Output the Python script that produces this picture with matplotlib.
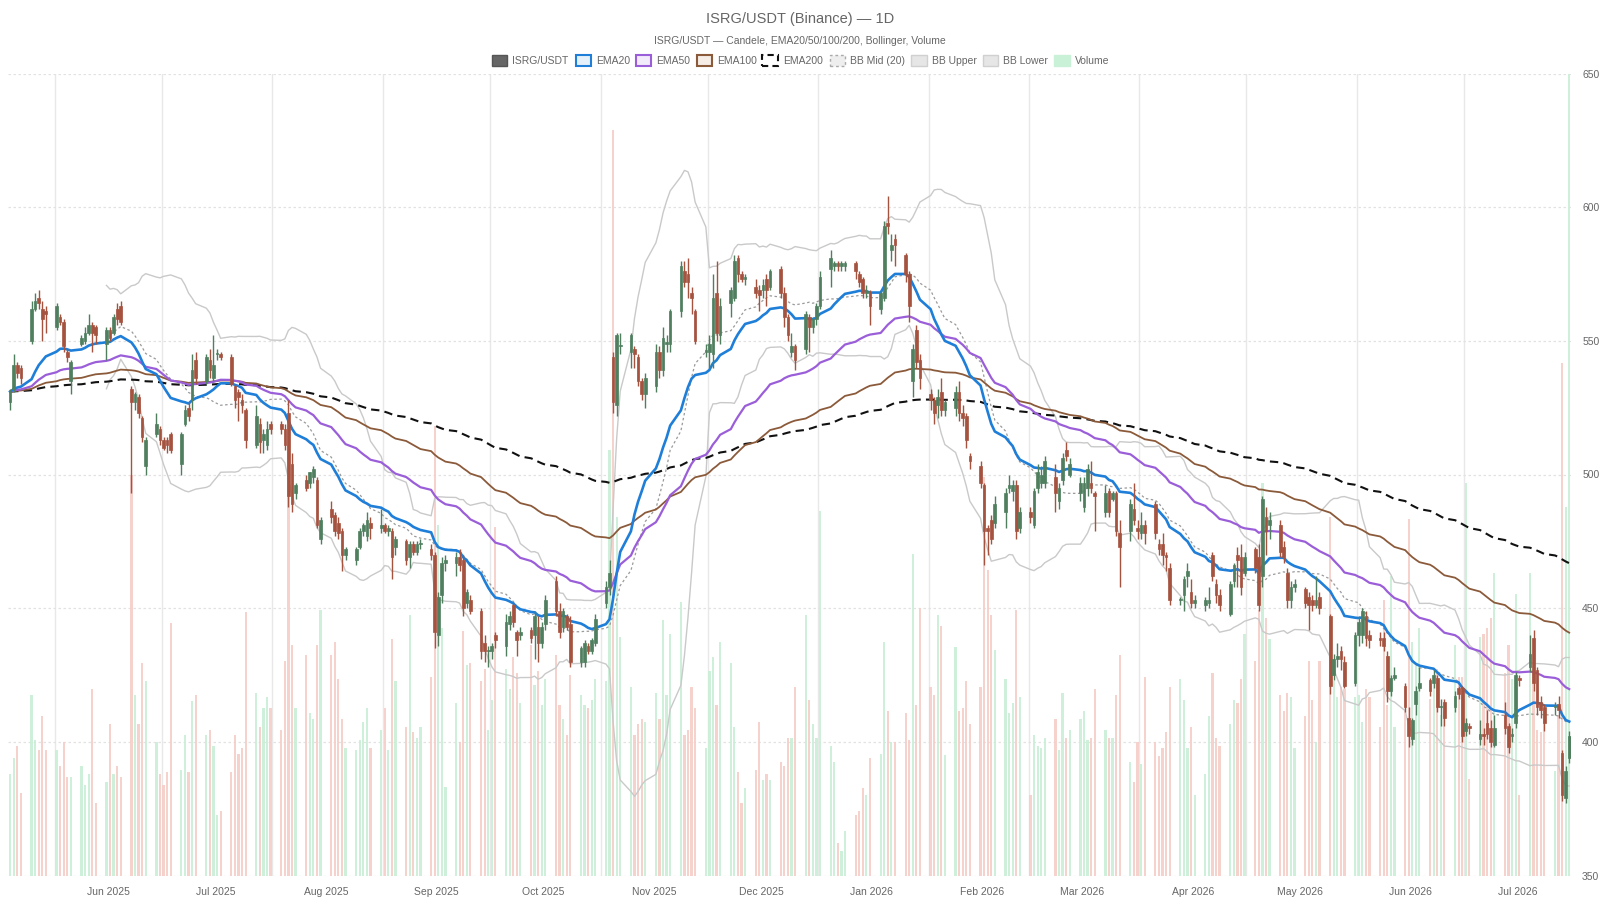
import numpy as np
import pandas as pd
import matplotlib
matplotlib.use("Agg")
import matplotlib.pyplot as plt
import matplotlib.dates as mdates
from matplotlib.patches import Rectangle

plt.rcParams['font.family'] = ['Liberation Sans', 'DejaVu Sans']

# ---------------- data (daily candles, weekdays from 2025-05-20) ----------------
start_date = "2025-05-20"
opens = [
    527, 532, 541, 540,
    550, 562, 566, 562, 561,  555, 559, 557, 546, 535,  549, 550, 553, 556, 555,
    549, 554, 553, 562, 563,  532, 527, 529, 521, 503,  515, 517, 513, 513, 515,
    504, 519, 525, 528, 543,  535, 543, 536, 545, 545,  544, 533, 531, 528, 524,
    511, 519, 513, 511, 519,  519, 517, 523, 504, 493,  498, 497, 499, 498, 476,
    487, 485, 482, 479, 470,  468, 473, 479, 477, 482,  480, 481, 479, 479, 473,
    475, 469, 474, 471, 474,  472, 470, 440, 455, 467,  467, 469, 468, 452, 453,
    449, 437, 434, 434, 440,  436, 444, 451, 441, 440,  442, 440, 443, 437, 444,
    460, 449, 443, 447, 444,  430, 430, 436, 434, 437,  452, 458, 544, 526, 548,
    546, 547, 544, 535, 530,  533, 546, 539, 549, 549,  561, 576, 575, 568, 561,
    546, 546, 545, 568, 552,  564, 566, 581, 575, 573,  570, 569, 569, 573, 570,
    577, 568, 559, 546, 548,  547, 559, 555, 558, 563,  577, 578, 579, 578, 578,
    579, 575, 573, 568, 568,  562, 566, 594, 584, 588,  582, 575, 535, 554, 543,
    530, 528, 526, 531, 524,  525, 531, 523, 522, 507,  503, 496, 480, 483, 482,
    486, 495, 494, 496, 480,  486, 481, 495, 497, 497,  499, 490, 498, 509, 500,
    493, 488, 495, 497, 493,  486, 494, 491, 493, 478,  479, 487, 480, 478, 481,
    489, 474, 474, 470, 465,  453, 455, 462, 456, 452,  451, 452, 470, 459, 455,
    448, 460, 470, 469, 463,  472, 469, 462, 484, 481,  481, 473, 463, 453, 458,
    457, 454, 453, 451, 454,  447, 425, 431, 434, 430,  422, 440, 440, 447, 440,
    439, 439, 432, 419, 424,  421, 409, 401, 414, 420,  423, 422, 424, 413, 415,
    413, 420, 420, 404, 406,  401, 403, 407, 405, 399,  410, 406, 402, 407, 424,
    428, 439, 427, 415, 413,  413, 414, 396, 379, 394,
]
highs = [
    532, 545, 542, 541,
    565, 568, 569, 565, 563,  564, 560, 558, 547, 543,  552, 555, 560, 557, 556,
    555, 555, 560, 564, 565,  533, 531, 530, 522, 514,  523, 518, 514, 514, 516,
    516, 526, 527, 545, 546,  545, 547, 552, 547, 546,  545, 534, 532, 530, 525,
    526, 521, 517, 520, 520,  520, 519, 528, 508, 497,  500, 501, 503, 499, 484,
    490, 486, 484, 480, 473,  473, 480, 482, 486, 484,  487, 482, 481, 480, 477,
    476, 475, 475, 475, 476,  474, 471, 456, 469, 470,  471, 472, 470, 457, 455,
    450, 440, 436, 437, 441,  448, 449, 452, 442, 443,  443, 449, 447, 445, 455,
    462, 452, 450, 448, 447,  436, 438, 437, 439, 448,  460, 468, 546, 553, 553,
    553, 548, 545, 536, 538,  549, 548, 555, 552, 562,  580, 580, 581, 570, 562,
    549, 552, 575, 580, 566,  570, 582, 582, 576, 575,  573, 571, 573, 575, 577,
    578, 570, 560, 553, 549,  561, 560, 559, 564, 576,  584, 580, 580, 580, 580,
    580, 576, 574, 571, 569,  569, 595, 604, 590, 590,  583, 576, 549, 556, 545,
    532, 529, 532, 536, 528,  533, 535, 526, 523, 508,  505, 497, 481, 485, 492,
    495, 500, 498, 498, 488,  488, 495, 504, 503, 507,  504, 497, 508, 512, 506,
    499, 499, 504, 505, 494,  496, 495, 494, 494, 483,  491, 497, 483, 486, 483,
    490, 476, 478, 471, 467,  454, 462, 467, 461, 455,  454, 458, 471, 461, 457,
    460, 467, 473, 474, 471,  473, 474, 492, 488, 486,  483, 475, 465, 460, 461,
    458, 456, 455, 462, 456,  448, 433, 437, 436, 432,  441, 447, 450, 449, 442,
    441, 441, 434, 425, 428,  422, 413, 409, 421, 428,  424, 427, 425, 416, 416,
    419, 421, 421, 409, 407,  408, 405, 412, 408, 410,  415, 407, 405, 426, 425,
    440, 442, 428, 417, 414,  415, 417, 397, 391, 404,
]
lows = [
    524, 531, 536, 534,
    549, 561, 562, 550, 553,  554, 556, 546, 542, 530,  548, 549, 552, 546, 549,
    543, 550, 552, 556, 556,  493, 524, 521, 512, 500,  514, 511, 509, 508, 508,
    500, 518, 520, 524, 534,  534, 536, 535, 543, 543,  533, 525, 520, 523, 510,
    510, 508, 508, 509, 515,  515, 509, 488, 486, 491,  494, 495, 497, 480, 474,
    482, 477, 476, 464, 468,  466, 472, 477, 475, 476,  478, 478, 477, 461, 470,
    466, 465, 470, 470, 472,  468, 435, 436, 452, 464,  462, 464, 447, 450, 448,
    431, 430, 428, 431, 435,  432, 442, 443, 432, 438,  437, 431, 430, 435, 442,
    447, 439, 441, 442, 428,  428, 428, 433, 433, 436,  450, 455, 523, 522, 545,
    540, 540, 533, 528, 525,  531, 536, 537, 546, 546,  559, 570, 566, 560, 549,
    544, 540, 540, 550, 549,  559, 565, 572, 572, 571,  566, 561, 566, 563, 569,
    566, 555, 550, 544, 539,  545, 546, 553, 556, 562,  570, 576, 576, 576, 576,
    573, 570, 566, 566, 556,  560, 565, 590, 580, 578,  572, 557, 529, 540, 532,
    524, 519, 521, 522, 522,  522, 520, 518, 510, 502,  495, 466, 470, 474, 480,
    480, 493, 490, 476, 478,  482, 480, 493, 495, 495,  486, 487, 496, 505, 499,
    490, 486, 492, 493, 479,  484, 484, 490, 477, 458,  475, 481, 476, 476, 474,
    476, 470, 466, 464, 451,  451, 449, 458, 450, 450,  449, 450, 460, 452, 449,
    447, 458, 458, 455, 462,  463, 449, 458, 470, 476,  469, 467, 450, 450, 456,
    450, 442, 449, 450, 448,  418, 423, 428, 427, 420,  421, 436, 437, 436, 435,
    436, 434, 415, 417, 423,  411, 398, 399, 410, 419,  417, 420, 411, 406, 406,
    411, 416, 400, 402, 403,  399, 399, 401, 398, 398,  403, 396, 400, 405, 421,
    426, 419, 410, 409, 404,  410, 409, 378, 377, 392,
]
closes = [
    531, 541, 538, 536,
    562, 565, 564, 558, 560,  563, 557, 548, 544, 542,  551, 553, 556, 553, 552,
    554, 551, 559, 558, 557,  527, 530, 523, 514, 513,  519, 513, 510, 511, 509,
    515, 524, 522, 539, 536,  544, 539, 541, 545, 544,  534, 528, 529, 526, 513,
    522, 512, 515, 517, 517,  517, 511, 492, 489, 496,  495, 501, 502, 481, 483,
    484, 479, 478, 470, 472,  472, 479, 481, 483, 480,  481, 479, 480, 469, 476,
    468, 474, 471, 474, 474,  470, 441, 454, 467, 468,  469, 466, 450, 456, 449,
    434, 434, 434, 436, 438,  445, 447, 445, 438, 441,  439, 447, 437, 443, 453,
    449, 441, 449, 443, 430,  435, 437, 434, 438, 446,  458, 463, 527, 552, 548,
    552, 545, 535, 530, 536,  546, 539, 551, 549, 561,  578, 572, 572, 566, 550,
    546, 549, 566, 553, 563,  569, 580, 575, 573, 574,  568, 567, 571, 569, 576,
    568, 559, 552, 548, 543,  560, 555, 558, 563, 574,  581, 579, 578, 579, 579,
    576, 572, 568, 568, 563,  568, 593, 593, 586, 586,  575, 563, 547, 542, 536,
    528, 523, 529, 524, 527,  531, 523, 521, 513, 505,  497, 479, 479, 476, 489,
    493, 496, 496, 479, 486,  484, 494, 501, 500, 505,  493, 495, 506, 507, 504,
    497, 497, 502, 495, 492,  493, 486, 493, 479, 473,  489, 483, 479, 481, 478,
    478, 472, 470, 469, 453,  453, 461, 464, 452, 453,  453, 453, 462, 455, 451,
    459, 466, 468, 458, 469,  465, 451, 491, 479, 483,  471, 469, 453, 458, 459,
    452, 451, 451, 453, 450,  421, 431, 432, 431, 421,  440, 445, 449, 439, 438,
    438, 436, 419, 424, 425,  413, 402, 408, 419, 422,  419, 425, 413, 413, 409,
    417, 418, 402, 407, 405,  403, 402, 403, 400, 405,  405, 398, 403, 425, 423,
    433, 422, 413, 412, 407,  413, 412, 380, 389, 402,
]
volumes = [
    126, 146, 162, 103,
    225, 169, 156, 199, 156,  156, 136, 166, 123, 123,  136, 113, 126, 232, 90,
    116, 189, 126, 136, 123,  500, 225, 189, 265, 242,  166, 126, 113, 129, 315,
    132, 175, 129, 218, 225,  175, 182, 162, 76, 80,  129, 175, 152, 159, 328,
    228, 185, 209, 222, 209,  182, 268, 560, 288, 209,  275, 202, 195, 288, 331,
    275, 291, 245, 195, 159,  156, 169, 192, 209, 159,  182, 209, 156, 295, 242,
    185, 325, 179, 172, 185,  248, 560, 437, 308, 110,  215, 166, 305, 262, 265,
    242, 258, 182, 219, 434,  258, 232, 272, 252, 215,  288, 238, 255, 212, 245,
    275, 212, 195, 175, 250,  225, 212, 209, 219, 245,  242, 530, 930, 447, 298,
    235, 175, 189, 195, 192,  228, 195, 318, 225, 301,  341, 175, 182, 235, 209,
    159, 255, 272, 212, 291,  265, 185, 129, 90, 109,  132, 192, 119, 126, 119,
    142, 136, 172, 172, 235,  325, 219, 189, 172, 454,  162, 142, 40, 30, 56,
    76, 80, 109, 100, 146,  152, 291, 205, 166, 166,  202, 169, 401, 212, 334,
    235, 225, 325, 311, 150,  285, 205, 209, 242, 189,  235, 497, 381, 325, 281,
    245, 202, 215, 331, 222,  100, 175, 162, 159, 172,  195, 156, 228, 172, 182,
    195, 205, 169, 172, 232,  182, 172, 172, 225, 275,  142, 116, 166, 139, 248,
    166, 149, 159, 179, 235,  245, 219, 159, 185, 100,  126, 199, 252, 172, 162,
    189, 219, 215, 245, 301,  268, 331, 490, 321, 295,  225, 205, 228, 222, 159,
    199, 268, 219, 166, 268,  447, 242, 222, 235, 232,  222, 225, 192, 232, 222,
    185, 344, 212, 374, 185,  205, 444, 291, 262, 308,  220, 240, 258, 200, 205,
    288, 248, 248, 490, 120,  298, 301, 308, 321, 377,  252, 288, 245, 351, 100,
    377, 252, 182, 179, 209,  130, 200, 639, 460, 1000,
]
price_ticks = [350, 400, 450, 500, 550, 600, 650]
title = "ISRG/USDT (Binance) — 1D"
subtitle = "ISRG/USDT — Candele, EMA20/50/100/200, Bollinger, Volume"
legend_labels = ["ISRG/USDT", "EMA20", "EMA50", "EMA100", "EMA200",
                 "BB Mid (20)", "BB Upper", "BB Lower", "Volume"]

# ---------------- derived ----------------
n = min(len(opens), len(highs), len(lows), len(closes), len(volumes))
o = np.array(opens[:n], float); h = np.array(highs[:n], float)
l = np.array(lows[:n], float); c = np.array(closes[:n], float)
v = np.array(volumes[:n], float)
dates = pd.bdate_range(start_date, periods=n)
x = mdates.date2num(dates.to_pydatetime()) - 0.5

cs = pd.Series(c)
ema20 = cs.ewm(span=20, adjust=False).mean()
ema50 = cs.ewm(span=50, adjust=False).mean()
ema100 = cs.ewm(span=100, adjust=False).mean()
ema200 = cs.ewm(span=200, adjust=False).mean()
bb_mid = cs.rolling(20).mean()
bb_sd = cs.rolling(20).std(ddof=0)
bb_up = bb_mid + 2 * bb_sd
bb_lo = bb_mid - 2 * bb_sd

UP = "#4f7f5e"
DOWN = "#a5523f"
VOL_UP = "#c9efd6"
VOL_DOWN = "#f6cdc8"
C_EMA20 = "#1f7fd8"
C_EMA50 = "#9b5ed9"
C_EMA100 = "#8b5a3a"
C_EMA200 = "#111111"
C_BB = "#c9c9c9"
C_BBMID = "#9a9a9a"
TXT = "#666666"

# ---------------- figure ----------------
W, H = 1600, 900
fig = plt.figure(figsize=(16, 9), dpi=100)
fig.patch.set_facecolor("white")
L, R, T, B = 8, 1571, 73.5, 875.5
rect = [L / W, 1 - B / H, (R - L) / W, (B - T) / H]
ax_v = fig.add_axes(rect)
ax = fig.add_axes(rect, sharex=ax_v)
ax.set_facecolor("none")

xmin, xmax = x[0] - 0.6, x[-1] + 0.5
ymin, ymax = 350, 650
vmax = v.max()

# grid (on the background axis)
ax_v.set_xlim(xmin, xmax)
ax_v.set_ylim(0, vmax)
months = pd.date_range("2025-06-01", "2026-08-01", freq="MS")
for m in months:
    mx = mdates.date2num(m.to_pydatetime())
    if xmin < mx < xmax:
        ax_v.axvline(mx, color="#e8e8e8", lw=1.0, zorder=0)
for p in price_ticks:
    ax_v.axhline(vmax * (p - ymin) / (ymax - ymin), color="#e2e2e2", lw=0.9,
                 ls=(0, (2, 2)), zorder=0)

# volume bars
vcol = np.where(c >= o, VOL_UP, VOL_DOWN)
ax_v.bar(x, v, width=0.62, color=vcol, alpha=0.9, linewidth=0, zorder=1)
ax_v.set_yticks([])
ax_v.tick_params(axis="x", length=0, labelbottom=False)
for s in ax_v.spines.values():
    s.set_visible(False)

# indicators
ax.plot(x, bb_up, color=C_BB, lw=1.0, zorder=2)
ax.plot(x, bb_lo, color=C_BB, lw=1.0, zorder=2)
ax.plot(x, bb_mid, color=C_BBMID, lw=0.9, ls=(0, (2, 2)), zorder=2)
ax.plot(x, ema200, color=C_EMA200, lw=1.5, ls=(0, (4, 2.5)), zorder=3)
ax.plot(x, ema100, color=C_EMA100, lw=1.3, zorder=3)
ax.plot(x, ema50, color=C_EMA50, lw=1.6, zorder=3)
ax.plot(x, ema20, color=C_EMA20, lw=1.9, zorder=3)

# candles
up = c >= o
ccol = np.where(up, UP, DOWN)
ax.vlines(x, l, h, colors=ccol, lw=1.0, zorder=4)
body_lo = np.minimum(o, c)
body_h = np.maximum(np.abs(c - o), 0.5)
ax.bar(x, body_h, bottom=body_lo, width=0.75, color=ccol, edgecolor=ccol,
       linewidth=0.5, zorder=5)

ax.set_xlim(xmin, xmax)
ax.set_ylim(ymin, ymax)
ax.yaxis.tick_right()
ax.set_yticks(price_ticks)
ax.set_yticklabels([str(p) for p in price_ticks])
ax.tick_params(axis="y", length=0, pad=8, labelsize=7.5, labelcolor=TXT)

mids = [mdates.date2num(m.to_pydatetime()) + 15 for m in months[:-1]]
ax.set_xticks(mids)
ax.set_xticklabels([m.strftime("%b %Y") for m in months[:-1]])
ax.tick_params(axis="x", length=0, pad=8, labelsize=7.5, labelcolor=TXT)
for s in ax.spines.values():
    s.set_visible(False)

# titles
fig.text(0.5, 1 - 19.5 / H, title, ha="center", va="center", fontsize=10.5, color=TXT)
fig.text(0.5, 1 - 41 / H, subtitle, ha="center", va="center", fontsize=7.5, color=TXT)

# legend (manual, one row)
ly = 60.5
items = [
    (491.8, dict(fc="#666666", ec="#555555", lw=1.0, ls="-")),
    (575.5, dict(fc="#e6f0fb", ec=C_EMA20, lw=1.5, ls="-")),
    (635.7, dict(fc="#f2ebfb", ec=C_EMA50, lw=1.5, ls="-")),
    (696.9, dict(fc="#f5ede6", ec=C_EMA100, lw=1.5, ls="-")),
    (762.2, dict(fc="white", ec=C_EMA200, lw=1.5, ls=(0, (3, 2)))),
    (829.6, dict(fc="#eeeeee", ec="#aaaaaa", lw=1.0, ls=(0, (2, 2)))),
    (911.2, dict(fc="#e6e6e6", ec="#d0d0d0", lw=1.0, ls="-")),
    (982.7, dict(fc="#e6e6e6", ec="#d0d0d0", lw=1.0, ls="-")),
    (1054.0, dict(fc="#c8f1d7", ec="#c8f1d7", lw=1.0, ls="-")),
]
bw, bh = 15.5, 11
for (bx, st), lab in zip(items, legend_labels):
    r = Rectangle((bx / W, 1 - (ly + bh / 2) / H), bw / W, bh / H,
                  transform=fig.transFigure, facecolor=st["fc"], edgecolor=st["ec"],
                  linewidth=st["lw"], linestyle=st["ls"])
    fig.add_artist(r)
    fig.text((bx + bw + 5) / W, 1 - ly / H, lab, ha="left", va="center",
             fontsize=7.5, color=TXT)

fig.savefig("out.png", dpi=100, facecolor="white")
